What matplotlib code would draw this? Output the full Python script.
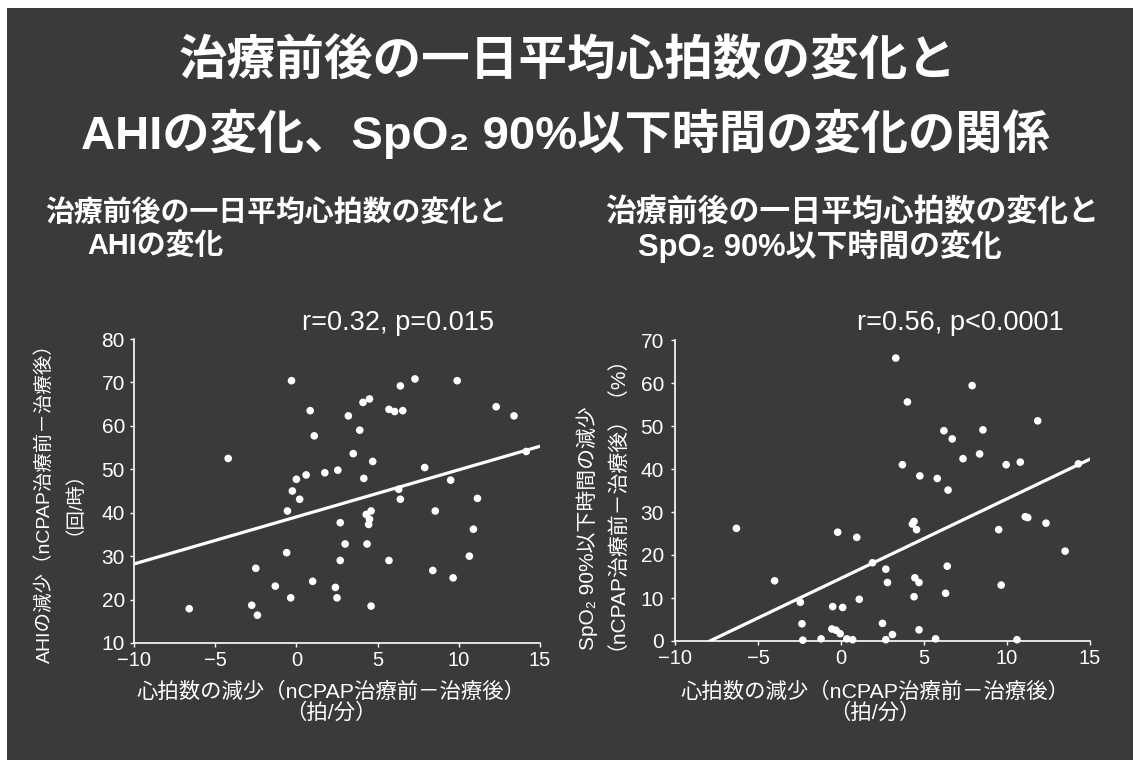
import matplotlib
matplotlib.use('Agg')
import matplotlib.pyplot as plt
from matplotlib.patches import Rectangle

W, H = 1133, 760
plt.rcParams['font.family'] = ['Liberation Sans', 'Noto Sans CJK JP', 'DejaVu Sans']
plt.rcParams['axes.unicode_minus'] = True

# ---------------- data ----------------
title_line1 = "治療前後の一日平均心拍数の変化と"
title_line2 = "AHIの変化、SpO₂ 90%以下時間の変化の関係"
sub_left = ["治療前後の一日平均心拍数の変化と", "AHIの変化"]
sub_right = ["治療前後の一日平均心拍数の変化と", "SpO₂ 90%以下時間の変化"]
stat_left = "r=0.32, p=0.015"
stat_right = "r=0.56, p<0.0001"
xlabel = "心拍数の減少（nCPAP治療前－治療後）\n（拍/分）"
ylabel_left = ["AHIの減少（nCPAP治療前－治療後）", "（回/時）"]
ylabel_right = ["SpO₂ 90%以下時間の減少", "（nCPAP治療前－治療後）（%）"]

x_ticks = [-10, -5, 0, 5, 10, 15]
y_ticks_left = [10, 20, 30, 40, 50, 60, 70, 80]
y_ticks_right = [0, 10, 20, 30, 40, 50, 60, 70]

left_x = [-6.6, -4.2, -2.5, -2.75, -2.4, -1.3, -0.6, -0.35, -0.3, -0.55, -0.25, 0.0,
          0.2, 0.6, 0.85, 1.1, 1.0, 1.75, 2.4, 2.5, 2.55, 2.7, 2.7, 3.0, 3.2, 3.5,
          3.9, 4.1, 4.5, 4.15, 4.7, 4.35, 4.6, 4.3, 4.5, 4.45, 4.6, 5.7, 5.7, 6.05,
          6.55, 6.4, 6.3, 6.4, 7.3, 7.9, 8.55, 8.4, 9.5, 9.65, 9.9, 10.65, 10.9,
          11.15, 12.3, 13.4, 14.15]
left_y = [17.9, 52.5, 27.2, 18.7, 16.4, 23.1, 30.8, 20.4, 70.4, 40.4, 45.0, 47.7,
          43.1, 48.7, 63.5, 57.7, 24.2, 49.2, 22.8, 20.4, 49.8, 37.7, 29.0, 32.8,
          62.3, 53.6, 59.0, 65.4, 66.2, 47.9, 51.8, 32.8, 18.5, 39.6, 38.5, 37.3,
          40.4, 29.0, 63.8, 63.3, 63.5, 69.2, 45.4, 43.1, 70.8, 50.4, 40.4, 26.7,
          47.5, 25.0, 70.4, 30.0, 36.2, 43.3, 64.4, 62.3, 54.1]

right_x = [-6.3, -4.0, -2.35, -2.3, -1.2, -0.5, 0.1, -0.55, -0.3, -0.05, 0.35, 0.7,
           -0.2, 0.95, 1.1, 1.9, 2.7, 2.8, 2.5, 2.7, 3.1, 3.3, 3.7, 4.0, 4.3, 4.55,
           4.4, 4.45, 4.7, 4.7, 4.75, 5.7, 5.8, 6.2, 6.4, 6.3, 6.45, 6.7, 7.35, 7.9,
           8.35, 8.55, 9.5, 9.65, 9.95, 10.6, 10.8, 11.1, 11.25, 11.85, 12.35, 13.5,
           14.3, 4.4, -2.45]
right_y = [26.2, 14.0, 4.0, 0.2, 0.5, 8.0, 7.8, 2.8, 2.5, 1.7, 0.5, 0.3, 25.3, 24.1,
           9.7, 18.2, 16.7, 13.6, 4.1, 0.3, 1.5, 65.8, 41.0, 55.6, 27.2, 25.9, 10.3,
           14.7, 13.6, 2.6, 38.4, 0.5, 37.8, 48.9, 17.4, 11.1, 35.1, 47.0, 42.4, 59.4,
           43.5, 49.1, 25.9, 13.0, 41.0, 0.3, 41.6, 28.9, 28.7, 51.2, 27.4, 20.9,
           41.2, 27.8, 9.0]

fit_left_x = [-10, 15]
fit_left_y = [28.2, 55.3]
fit_right_x = [-7.9, 15]
fit_right_y = [0.0, 42.3]

# ---------------- figure ----------------
fig = plt.figure(figsize=(W / 100, H / 100), dpi=100, facecolor='white')


def fx(x):
    return x / W


def fy(y):
    return 1 - y / H


bg = Rectangle((fx(7), 0), 1 - fx(7), fy(8), transform=fig.transFigure,
               facecolor='#3a3a3a', edgecolor='none', zorder=-10)
fig.patches.append(bg)

TXT = 'white'

fig.text(fx(568), fy(62), title_line1, ha='center', va='center', fontsize=35,
         color=TXT, fontweight='bold')
fig.text(fx(565), fy(134), title_line2, ha='center', va='center', fontsize=34,
         color=TXT, fontweight='bold')

fig.text(fx(45), fy(213), sub_left[0], ha='left', va='center', fontsize=20.8,
         color=TXT, fontweight='bold')
fig.text(fx(87), fy(246), sub_left[1], ha='left', va='center', fontsize=20.8,
         color=TXT, fontweight='bold')
fig.text(fx(605), fy(213), sub_right[0], ha='left', va='center', fontsize=22.2,
         color=TXT, fontweight='bold')
fig.text(fx(638), fy(246), sub_right[1], ha='left', va='center', fontsize=22.2,
         color=TXT, fontweight='bold')

fig.text(fx(302), fy(323), stat_left, ha='left', va='center', fontsize=19.5, color=TXT)
fig.text(fx(857), fy(323), stat_right, ha='left', va='center', fontsize=19.5, color=TXT)


def make_axes(x0, x1, y_top, y_bot):
    ax = fig.add_axes([fx(x0), fy(y_bot), (x1 - x0) / W, (y_bot - y_top) / H])
    ax.set_facecolor('none')
    ax.set_zorder(2)
    for s in ['top', 'right']:
        ax.spines[s].set_visible(False)
    for s in ['left', 'bottom']:
        ax.spines[s].set_color('white')
        ax.spines[s].set_linewidth(1.2)
    ax.tick_params(colors='white', labelcolor='white', length=3,
                   width=1, direction='out')
    ax.tick_params(axis='y', labelsize=15, pad=3.5)
    ax.tick_params(axis='x', labelsize=14.5, pad=3)
    return ax


axL = make_axes(134, 540, 339, 643)
axL.scatter(left_x, left_y, s=30, color='white', edgecolors='none', zorder=3)
axL.plot(fit_left_x, fit_left_y, color='white', lw=2.3, zorder=2)
axL.set_xlim(-10, 15)
axL.set_ylim(10, 80)
axL.set_xticks(x_ticks)
axL.set_yticks(y_ticks_left)

axR = make_axes(675, 1090, 340, 641)
axR.scatter(right_x, right_y, s=30, color='white', edgecolors='none', zorder=3,
            clip_on=False)
axR.plot(fit_right_x, fit_right_y, color='white', lw=2.3, zorder=2)
axR.set_xlim(-10, 15)
axR.set_ylim(0, 70)
axR.set_xticks(x_ticks)
axR.set_yticks(y_ticks_right)
axR.tick_params(axis='y', pad=5)

# axis labels
fig.text(fx(331), fy(682), xlabel, ha='center', va='top', fontsize=15.4,
         color=TXT, linespacing=1.0, multialignment='center')
fig.text(fx(875), fy(682), xlabel, ha='center', va='top', fontsize=15.4,
         color=TXT, linespacing=1.0, multialignment='center')

fig.text(fx(45), fy(499), ylabel_left[0], ha='center', va='center', fontsize=14,
         color=TXT, rotation=90)
fig.text(fx(64), fy(493), ylabel_left[1], ha='center', va='center', fontsize=14,
         color=TXT, rotation=90)
fig.text(fx(587), fy(650), ylabel_right[0], ha='center', va='bottom', fontsize=15,
         color=TXT, rotation=90)
fig.text(fx(606), fy(650), ylabel_right[1], ha='center', va='bottom', fontsize=15,
         color=TXT, rotation=90)

fig.savefig('out.png', dpi=100, facecolor=fig.get_facecolor())
